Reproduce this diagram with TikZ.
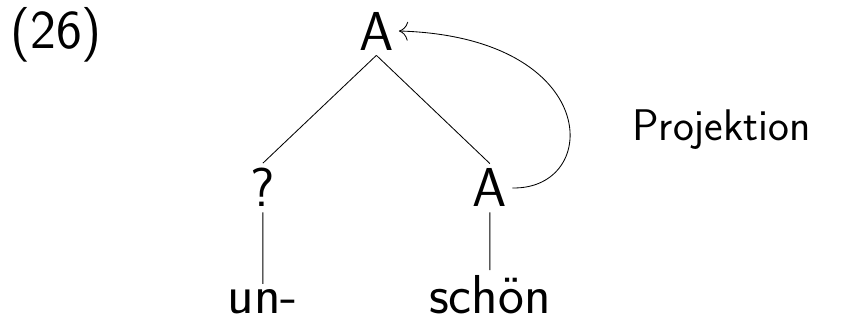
\documentclass[tikz,border=0pt]{standalone}
\usepackage{fontspec}
\usepackage{tikz}
\usetikzlibrary{arrows.meta}
\tikzset{
    treenode/.style = {anchor=base, inner sep=3.5pt, font=\sffamily\fontsize{39}{47}\selectfont},
    labelnode/.style = {anchor=base, inner sep=0pt, font=\sffamily\fontsize{31.5}{38}\selectfont},
    proj/.style = {-{To[scale=2.2]}, line width=0.6pt}
}

\begin{document}
\begin{tikzpicture}
            [-,line width=0.6pt,
            level 1/.style={sibling distance = 5.675cm, level distance = 4.4cm, xshift=-0.13cm},
            level 2/.style={level distance = 3.14cm},
            edge from parent path={(\tikzparentnode.south) -- (\tikzchildnode.north)}]

            \useasboundingbox (0,0) rectangle (21.05,-8.1);

            \node [treenode] (ex) at (1.4,-1.2) {(26)};

            \node
            [treenode] (top) at (9.41,-1.25) {A}
            child {
                node [treenode] (q) {?}
                child { node [treenode] (un) {un-} }
            }
            child {
                node [treenode] (a) {A}
                child { node [treenode] (schoen) {schön} }
            }
            ;

            % Kopf projiziert nach oben
            \draw [proj] (a.east) .. controls +(2.25,-0.05) and +(5.1,-0.15) .. (top.east);

            \node [labelnode] (projlabel) at (18.04,-3.5) {Projektion};
        \end{tikzpicture}
\end{document}
